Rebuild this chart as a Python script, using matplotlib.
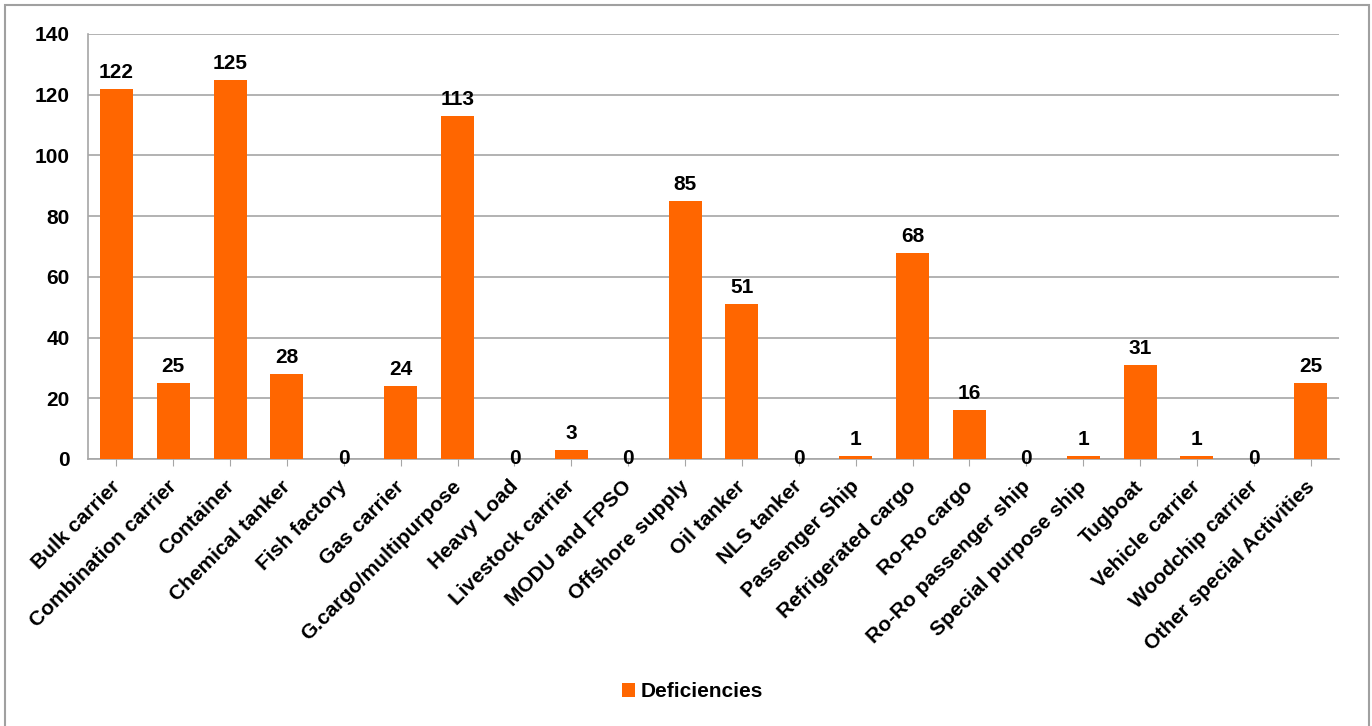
import numpy as np
import matplotlib.pyplot as plt
import matplotlib.transforms as mtransforms
from matplotlib.patches import Rectangle

plt.rcParams['font.family'] = ['Liberation Sans', 'DejaVu Sans']
plt.rcParams['font.weight'] = 'bold'

tipos = ['Bulk carrier', 'Combination carrier', 'Container', 'Chemical tanker',
         'Fish factory', 'Gas carrier', 'G.cargo/multipurpose', 'Heavy Load',
         'Livestock carrier', 'MODU and FPSO', 'Offshore supply', 'Oil tanker',
         'NLS tanker', 'Passenger Ship', 'Refrigerated cargo', 'Ro-Ro cargo',
         'Ro-Ro passenger ship', 'Special purpose ship', 'Tugboat',
         'Vehicle carrier', 'Woodchip carrier', 'Other special Activities']
deficiencias = [122, 25, 125, 28, 0, 24, 113, 0, 3, 0, 85, 51, 0, 1, 68, 16,
                0, 1, 31, 1, 0, 25]
y_ticks = [0, 20, 40, 60, 80, 100, 120, 140]

naranja = '#FF6600'
gris = '#A6A6A6'
fs = 15

fig = plt.figure(figsize=(13.72, 7.26), dpi=100)
ax = fig.add_axes([0.0641, 0.3678, 0.9119, 0.5854])

x = np.arange(len(tipos))
ax.bar(x, deficiencias, width=0.58, color=naranja, label='Deficiencies', zorder=3)

# etiquetas de valores
for xi, v in zip(x, deficiencias):
    if v == 0:
        ax.annotate(str(v), (xi, 0), ha='center', va='center',
                    fontsize=fs, fontweight='bold', zorder=4)
    else:
        ax.annotate(str(v), (xi, v), xytext=(0, 5), textcoords='offset points',
                    ha='center', va='bottom', fontsize=fs, fontweight='bold')

ax.set_xlim(-0.5, len(tipos) - 0.5)
ax.set_ylim(0, 140)
ax.set_yticks(y_ticks)
ax.set_yticklabels([str(t) for t in y_ticks], fontsize=fs, fontweight='bold')
ax.tick_params(axis='y', length=0, pad=13)
ax.set_xticks(x)
ax.set_xticklabels(tipos, rotation=45, ha='right', rotation_mode='anchor',
                   fontsize=fs, fontweight='bold')
ax.tick_params(axis='x', length=5, color=gris, pad=10)

# mover un poco las etiquetas hacia la izquierda
desplaza = mtransforms.ScaledTranslation(-6 / 100, 3 / 100, fig.dpi_scale_trans)
for lab in ax.get_xticklabels():
    lab.set_transform(lab.get_transform() + desplaza)

ax.grid(axis='y', color=gris, linewidth=1.2, zorder=0)
for lado in ['top', 'right']:
    ax.spines[lado].set_visible(False)
for lado in ['left', 'bottom']:
    ax.spines[lado].set_color(gris)
    ax.spines[lado].set_linewidth(1.2)

fig.legend(loc='center', bbox_to_anchor=(0.505, 0.047), frameon=False,
           prop={'size': fs, 'weight': 'bold'}, handlelength=0.6,
           handleheight=0.6, handletextpad=0.3)

# marco del gráfico
fig.patches.append(Rectangle((5 / 1372, -0.05), 1364 / 1372, 1 - 5 / 726 + 0.05,
                             transform=fig.transFigure, fill=False,
                             edgecolor='#A0A0A0', linewidth=1.5))

fig.savefig('out.png', dpi=100)
